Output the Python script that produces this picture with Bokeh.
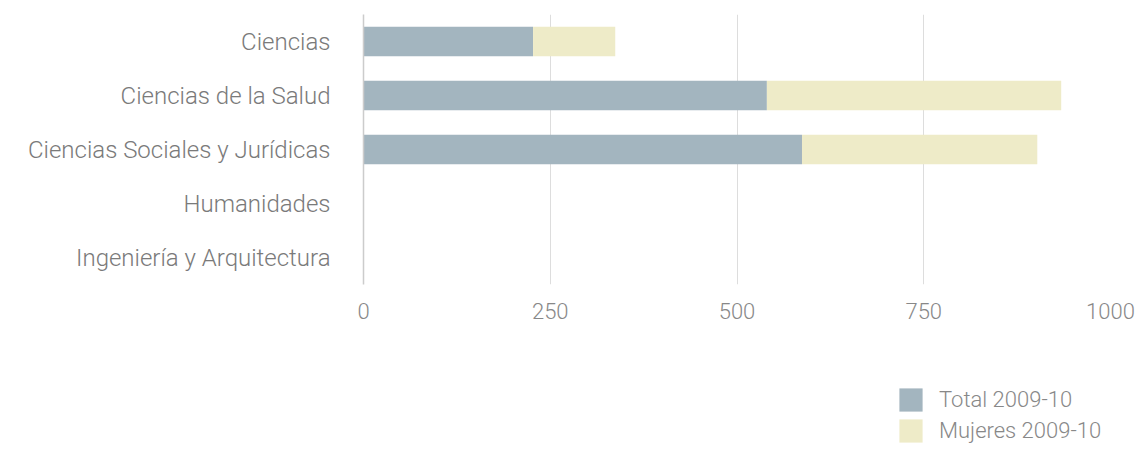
from bokeh.plotting import figure
from bokeh.models import FactorRange, Range1d, Legend, LegendItem, FixedTicker, ColumnDataSource
from bokeh.layouts import column
from bokeh.embed import file_html
from bokeh.resources import INLINE

categories = ["Ciencias", "Ciencias de la Salud", "Ciencias Sociales y Jurídicas",
              "Humanidades", "Ingeniería y Arquitectura"]
total = [227, 540, 587, 0, 0]
mujeres = [110, 394, 315, 0, 0]
ticks = [0, 250, 500, 750, 1000]
series_names = ["Total 2009-10", "Mujeres 2009-10"]

FONT = "Roboto Light"
C_TOTAL = "#a3b5bf"
C_MUJ = "#eeebc8"

p = figure(width=1136, height=340, output_backend="svg", toolbar_location=None,
           y_range=FactorRange(factors=list(reversed(categories)), range_padding=0),
           x_range=Range1d(0, 1000),
           min_border_left=363, min_border_right=26, min_border_top=14, min_border_bottom=56)
p.outline_line_color = None
p.background_fill_color = "white"
p.border_fill_color = "white"

stack_end = [t + m for t, m in zip(total, mujeres)]
r1 = p.hbar(y=categories, left=0, right=total, height=0.55, fill_color=C_TOTAL, line_color=None)
r2 = p.hbar(y=categories, left=total, right=stack_end, height=0.55, fill_color=C_MUJ, line_color=None)

p.xaxis.ticker = FixedTicker(ticks=ticks)
p.xaxis.axis_line_color = None
p.xaxis.major_tick_line_color = None
p.xaxis.minor_tick_line_color = None
p.xaxis.major_label_text_font = FONT
p.xaxis.major_label_text_font_size = "22px"
p.xaxis.major_label_text_color = "#888888"
p.xaxis.major_label_standoff = 12

p.yaxis.axis_line_color = "#cccccc"
p.yaxis.axis_line_width = 1.5
p.yaxis.major_tick_line_color = None
p.yaxis.minor_tick_line_color = None
p.yaxis.major_label_text_font = FONT
p.yaxis.major_label_text_font_size = "24px"
p.yaxis.major_label_text_color = "#7a7a7a"
p.yaxis.major_label_standoff = 27

p.xgrid.grid_line_color = "#dddddd"
p.xgrid.grid_line_width = 1
p.ygrid.grid_line_color = None

# legend panel below the chart (proxy renderers lie outside the visible range)
p2 = figure(width=1136, height=105, output_backend="svg", toolbar_location=None,
            x_range=Range1d(0, 1), y_range=Range1d(0, 1), x_axis_type=None, y_axis_type=None,
            min_border_left=0, min_border_right=0, min_border_top=0, min_border_bottom=0)
p2.outline_line_color = None
p2.xgrid.visible = False
p2.ygrid.visible = False
proxy = ColumnDataSource(data=dict(y=[-5], left=[-5], right=[-4]))
l1 = p2.hbar(y="y", left="left", right="right", height=0.5, source=proxy, fill_color=C_TOTAL, line_color=None)
l2 = p2.hbar(y="y", left="left", right="right", height=0.5, source=proxy, fill_color=C_MUJ, line_color=None)

legend = Legend(items=[LegendItem(label=series_names[0], renderers=[l1]),
                       LegendItem(label=series_names[1], renderers=[l2])],
                location=(533, 0), orientation="vertical",
                glyph_width=29, glyph_height=29, label_height=29, spacing=2,
                label_standoff=14, padding=0, margin=0,
                border_line_color=None, background_fill_alpha=0,
                label_text_font=FONT, label_text_font_size="22px",
                label_text_color="#888888")
p2.add_layout(legend, "center")

layout = column(p, p2, spacing=0)
open("out.html", "w").write(file_html(layout, INLINE))
